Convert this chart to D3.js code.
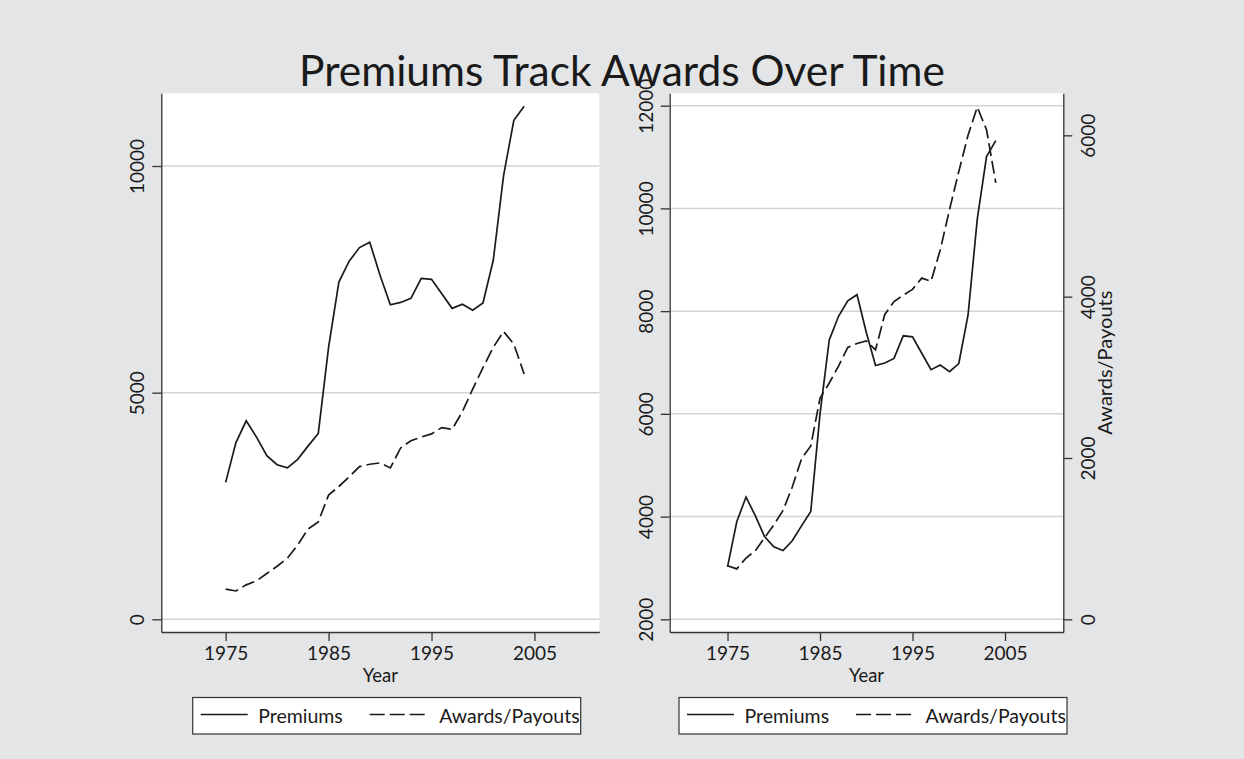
<!DOCTYPE html>
<html>
<head>
<meta charset="utf-8">
<title>Premiums Track Awards Over Time</title>
<script src="https://d3js.org/d3.v7.min.js"></script>
<style>
  body { margin: 0; background: #e4e5e7; }
  svg { display: block; font-family: Lato, "Open Sans", sans-serif; }
  svg text { font-family: Lato, "Open Sans", sans-serif; }
</style>
</head>
<body>
<svg id="chart" width="1244" height="759"></svg>
<script>
// data
const years = [1975, 1976, 1977, 1978, 1979, 1980, 1981, 1982, 1983, 1984,
               1985, 1986, 1987, 1988, 1989, 1990, 1991, 1992, 1993, 1994,
               1995, 1996, 1997, 1998, 1999, 2000, 2001, 2002, 2003, 2004];
const premiums = [3020, 3900, 4380, 4020, 3610, 3410, 3340, 3530, 3820, 4100,
                  6000, 7440, 7900, 8200, 8320, 7590, 6940, 6990, 7080, 7520,
                  7500, 7180, 6860, 6950, 6820, 6980, 7920, 9790, 11010, 11320];
const awards = [665, 625, 760, 850, 1010, 1170, 1350, 1640, 1990, 2150,
                2740, 2930, 3140, 3370, 3420, 3450, 3340, 3780, 3940, 4020,
                4090, 4230, 4190, 4580, 5080, 5550, 6000, 6350, 6070, 5410];
const xTicks = [1975, 1985, 1995, 2005];
const leftTicks = [0, 5000, 10000];
const rightPanelTicks = [2000, 4000, 6000, 8000, 10000, 12000];
const rightPanelAxis2Ticks = [0, 2000, 4000, 6000];
const seriesNames = ["Premiums", "Awards/Payouts"];

const svg = d3.select("#chart");
const ink = "#1a1a1a", axisInk = "#333", gridInk = "#d3d3d3";
const dash = "13,5";
const font = "Lato, 'Open Sans', sans-serif";

svg.append("rect").attr("width", 1244).attr("height", 759).attr("fill", "#e4e5e7");

svg.append("text")
  .attr("x", 622).attr("y", 86)
  .attr("text-anchor", "middle")
  .attr("font-size", 42.5)
  .attr("fill", ink)
  .text("Premiums Track Awards Over Time");

function rotateLabels(g, offset) {
  g.selectAll(".tick text")
    .attr("transform", "rotate(-90)")
    .attr("x", 0).attr("dy", 0)
    .attr("y", offset)
    .attr("text-anchor", "middle")
    .attr("fill", ink);
}

function styleAxis(g) {
  g.attr("font-family", font).attr("font-size", 19);
  g.select(".domain").attr("stroke", axisInk).attr("stroke-width", 1.3);
  g.selectAll(".tick line").attr("stroke", axisInk).attr("stroke-width", 1.3);
}

function panel(p) {
  const x = d3.scaleLinear().domain([1968.75, 2011.3]).range([p.left, p.right]);
  const y = d3.scaleLinear().domain(p.yDomain).range([p.bottom, p.top]);

  svg.append("rect")
    .attr("x", p.left).attr("y", p.top)
    .attr("width", p.right - p.left).attr("height", p.bottom - p.top)
    .attr("fill", "#fff");

  svg.append("g").selectAll("line").data(p.yTicks).join("line")
    .attr("x1", p.left).attr("x2", p.right)
    .attr("y1", d => y(d)).attr("y2", d => y(d))
    .attr("stroke", gridInk).attr("stroke-width", 1.5);

  const gy = svg.append("g").attr("transform", `translate(${p.left},0)`)
    .call(d3.axisLeft(y).tickValues(p.yTicks).tickSize(9).tickSizeOuter(0).tickFormat(d3.format("d")));
  styleAxis(gy);
  rotateLabels(gy, -17);

  const gx = svg.append("g").attr("transform", `translate(0,${p.bottom})`)
    .call(d3.axisBottom(x).tickValues(xTicks).tickSize(9).tickSizeOuter(0).tickFormat(d3.format("d")));
  styleAxis(gx);
  gx.selectAll(".tick text").attr("fill", ink).attr("y", 15).attr("dy", "0.71em");

  svg.append("text")
    .attr("x", (p.left + p.right) / 2).attr("y", 682)
    .attr("text-anchor", "middle").attr("font-size", 18.5).attr("fill", ink)
    .text("Year");

  let y2 = y;
  if (p.y2Domain) {
    y2 = d3.scaleLinear().domain(p.y2Domain).range([p.bottom, p.top]);
    const gr = svg.append("g").attr("transform", `translate(${p.right},0)`)
      .call(d3.axisRight(y2).tickValues(rightPanelAxis2Ticks).tickSize(9).tickSizeOuter(0).tickFormat(d3.format("d")));
    styleAxis(gr);
    rotateLabels(gr, 32);
    svg.append("text")
      .attr("transform", `translate(${p.right + 49},${(p.top + p.bottom) / 2}) rotate(-90)`)
      .attr("text-anchor", "middle").attr("font-size", 20).attr("fill", ink)
      .text("Awards/Payouts");
  }

  const lineP = d3.line().x((d, i) => x(years[i])).y(d => y(d));
  const lineA = d3.line().x((d, i) => x(years[i])).y(d => y2(d));

  svg.append("path").datum(premiums).attr("d", lineP)
    .attr("fill", "none").attr("stroke", ink).attr("stroke-width", 1.7);
  svg.append("path").datum(awards).attr("d", lineA)
    .attr("fill", "none").attr("stroke", ink).attr("stroke-width", 1.7)
    .attr("stroke-dasharray", dash);

  // legend
  const lg = svg.append("g").attr("transform", `translate(${p.legendX},697.5)`);
  lg.append("rect").attr("width", 388).attr("height", 36.5)
    .attr("fill", "#fff").attr("stroke", axisInk).attr("stroke-width", 1.2);
  const items = [
    { name: seriesNames[0], x0: 8, len: 47, dash: null, tx: 65.5 },
    { name: seriesNames[1], x0: 177, len: 55, dash: "15,5", tx: 246.5 }
  ];
  items.forEach(it => {
    lg.append("line").attr("x1", it.x0).attr("x2", it.x0 + it.len)
      .attr("y1", 17).attr("y2", 17)
      .attr("stroke", ink).attr("stroke-width", 1.7)
      .attr("stroke-dasharray", it.dash);
    lg.append("text").attr("x", it.tx).attr("y", 25.5)
      .attr("font-size", 19.5).attr("fill", ink).text(it.name);
  });
}

panel({
  left: 161.3, right: 599.3, top: 93.3, bottom: 632,
  yDomain: [-280, 11604], yTicks: leftTicks, legendX: 192.7
});
panel({
  left: 669.7, right: 1063.3, top: 93.3, bottom: 632,
  yDomain: [1753, 12241], yTicks: rightPanelTicks,
  y2Domain: [-157, 6521], legendX: 679
});
</script>
</body>
</html>
